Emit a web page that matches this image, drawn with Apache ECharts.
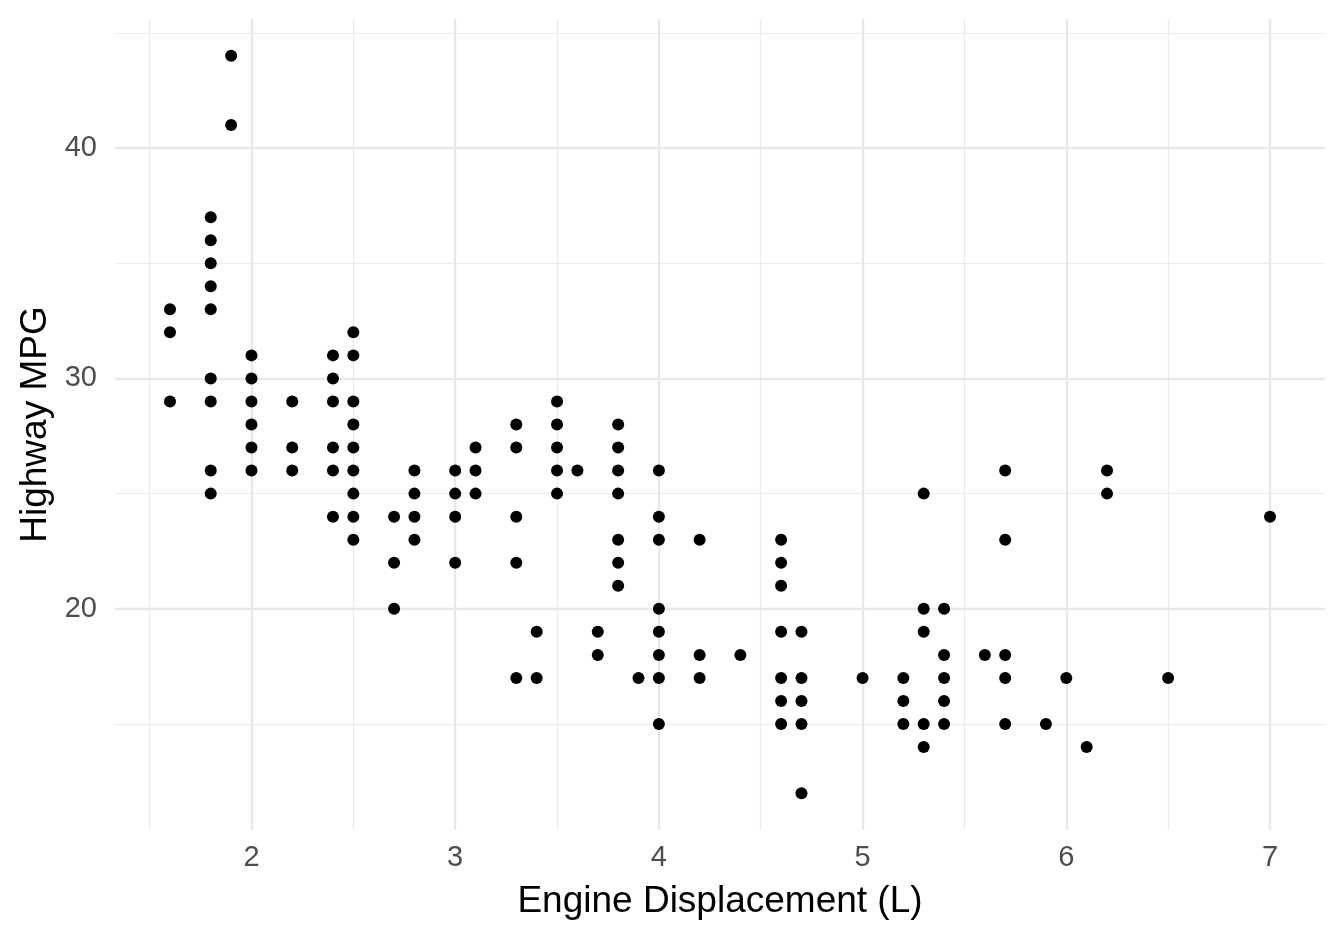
<!DOCTYPE html>
<html>
<head>
<meta charset="utf-8">
<script src="https://cdn.jsdelivr.net/npm/echarts@6/dist/echarts.min.js"></script>
<style>
html,body{margin:0;padding:0;background:#fff;}
#chart{width:1344px;height:940px;}
</style>
</head>
<body>
<div id="chart"></div>
<script>
// Engine displacement (L) and highway MPG, one entry per visible point
const displ = [
  1.6,1.6,1.6,
  1.8,1.8,1.8,1.8,1.8,1.8,1.8,1.8,1.8,
  1.9,1.9,
  2.0,2.0,2.0,2.0,2.0,2.0,
  2.2,2.2,2.2,
  2.4,2.4,2.4,2.4,2.4,2.4,
  2.5,2.5,2.5,2.5,2.5,2.5,2.5,2.5,2.5,
  2.7,2.7,2.7,
  2.8,2.8,2.8,2.8,
  3.0,3.0,3.0,3.0,
  3.1,3.1,3.1,
  3.3,3.3,3.3,3.3,3.3,
  3.4,3.4,
  3.5,3.5,3.5,3.5,3.5,
  3.6,
  3.7,3.7,
  3.8,3.8,3.8,3.8,3.8,3.8,3.8,
  3.9,
  4.0,4.0,4.0,4.0,4.0,4.0,4.0,4.0,
  4.2,4.2,4.2,
  4.4,
  4.6,4.6,4.6,4.6,4.6,4.6,4.6,
  4.7,4.7,4.7,4.7,4.7,
  5.0,
  5.2,5.2,5.2,
  5.3,5.3,5.3,5.3,5.3,
  5.4,5.4,5.4,5.4,5.4,
  5.6,
  5.7,5.7,5.7,5.7,5.7,
  5.9,
  6.0,
  6.1,
  6.2,6.2,
  6.5,
  7.0
];
const hwy = [
  33,32,29,
  37,36,35,34,33,30,29,26,25,
  44,41,
  31,30,29,28,27,26,
  29,27,26,
  31,30,29,27,26,24,
  32,31,29,28,27,26,25,24,23,
  24,22,20,
  26,25,24,23,
  26,25,24,22,
  27,26,25,
  28,27,24,22,17,
  19,17,
  29,28,27,26,25,
  26,
  19,18,
  28,27,26,25,23,22,21,
  17,
  26,24,23,20,19,18,17,15,
  23,18,17,
  18,
  23,22,21,19,17,16,15,
  19,17,16,15,12,
  17,
  17,16,15,
  25,20,19,15,14,
  20,18,17,16,15,
  18,
  26,23,18,17,15,
  15,
  17,
  14,
  26,25,
  17,
  24
];
const xTicks = [2,3,4,5,6,7];
const yTicks = [20,30,40];
const xMinorGrid = [1.5,2.5,3.5,4.5,5.5,6.5];
const yMinorGrid = [15,25,35,45];
const xRange = [1.33, 7.27];
const yRange = [10.4, 45.6];

const points = displ.map((d, i) => [d, hwy[i]]);

const GRID = '#ebebeb';
const gridLines = [];
xMinorGrid.forEach(v => gridLines.push({xAxis: v, lineStyle: {color: GRID, width: 1.2, type: 'solid'}}));
yMinorGrid.forEach(v => gridLines.push({yAxis: v, lineStyle: {color: GRID, width: 1.2, type: 'solid'}}));
xTicks.forEach(v => gridLines.push({xAxis: v, lineStyle: {color: '#e8e8e8', width: 2.4, type: 'solid'}}));
yTicks.forEach(v => gridLines.push({yAxis: v, lineStyle: {color: '#e8e8e8', width: 2.4, type: 'solid'}}));

const chart = echarts.init(document.getElementById('chart'), null, {renderer: 'canvas'});
chart.setOption({
  animation: false,
  backgroundColor: '#ffffff',
  textStyle: {fontFamily: 'Liberation Sans, Arial, sans-serif'},
  grid: {left: 115, right: 19, top: 19, bottom: 110, containLabel: false},
  xAxis: {
    type: 'value',
    min: xRange[0], max: xRange[1],
    name: 'Engine Displacement (L)',
    nameLocation: 'middle',
    nameGap: 53,
    nameTextStyle: {fontSize: 37, color: '#000000', fontFamily: 'Liberation Sans'},
    axisLine: {show: false},
    axisTick: {show: false},
    splitLine: {show: false},
    axisLabel: {customValues: xTicks, fontSize: 29, color: '#4d4d4d', margin: 13, fontFamily: 'Liberation Sans'}
  },
  yAxis: {
    type: 'value',
    min: yRange[0], max: yRange[1],
    name: 'Highway MPG',
    nameLocation: 'middle',
    nameGap: 55,
    nameRotate: 90,
    nameTextStyle: {fontSize: 37, color: '#000000', fontFamily: 'Liberation Sans'},
    axisLine: {show: false},
    axisTick: {show: false},
    splitLine: {show: false},
    axisLabel: {customValues: yTicks, fontSize: 29, color: '#4d4d4d', margin: 18, fontFamily: 'Liberation Sans'}
  },
  series: [
    {
      type: 'scatter',
      data: [],
      z: 1,
      silent: true,
      markLine: {
        silent: true,
        symbol: ['none', 'none'],
        label: {show: false},
        animation: false,
        data: gridLines
      }
    },
    {
      type: 'scatter',
      z: 5,
      data: points,
      symbol: 'circle',
      symbolSize: 12,
      itemStyle: {color: '#000000', opacity: 1}
    }
  ]
});
</script>
</body>
</html>
